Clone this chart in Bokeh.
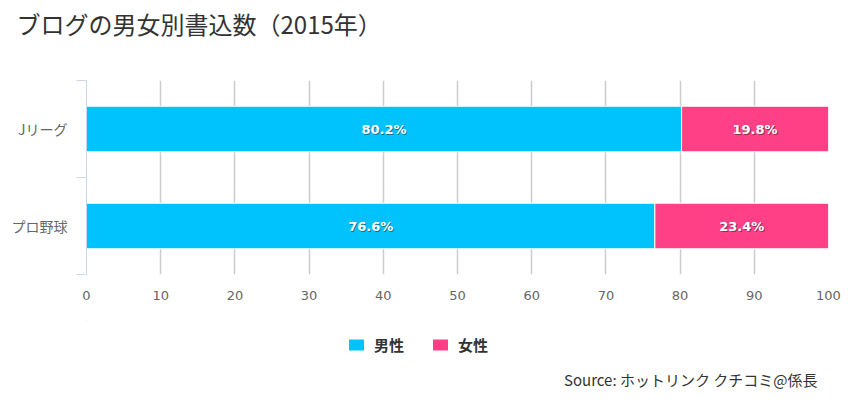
from bokeh.plotting import figure
from bokeh.layouts import column
from bokeh.models import (Range1d, FixedTicker, Legend, LegendItem, Label, Title, ColumnDataSource)
from bokeh.core.properties import value
from bokeh.embed import file_html
from bokeh.resources import INLINE

# ---- data ----
categories = ["Jリーグ", "プロ野球"]
male = [80.2, 76.6]
female = [19.8, 23.4]
series_names = ["男性", "女性"]
x_ticks = [0, 10, 20, 30, 40, 50, 60, 70, 80, 90, 100]
title_text = "ブログの男女別書込数（2015年）"
source_text = "Source: ホットリンク クチコミ@係長"

MALE_COLOR = "#00c3fe"
FEMALE_COLOR = "#ff4087"
JP = "Noto Sans CJK JP"
NUM = "DejaVu Sans"
W = 852

n = len(categories)
ypos = [i + 0.5 for i in range(n)]
src = ColumnDataSource(dict(y=ypos, cat=categories, male=male, female=female))


def blank(height):
    f = figure(width=W, height=height, output_backend="svg", toolbar_location=None,
               x_range=Range1d(0, 1), y_range=Range1d(0, 1),
               x_axis_type=None, y_axis_type=None, min_border=0)
    f.outline_line_color = None
    f.grid.visible = False
    return f


# ---- header with title ----
head = blank(60)
head.title = Title(text=title_text, align="left", offset=-70, standoff=6,
                   text_font=JP, text_font_size="24px", text_font_style="normal",
                   text_color="#333333")

# ---- main chart ----
p = figure(width=W, height=260, output_backend="svg", toolbar_location=None,
           x_range=Range1d(0, 100), y_range=Range1d(n, 0),
           min_border_left=86, min_border_right=W - 828, min_border_top=20, min_border_bottom=46)
p.outline_line_color = None

p.hbar_stack(["male", "female"], y="y", height=0.47, source=src,
             color=[MALE_COLOR, FEMALE_COLOR], line_color="white", line_width=1)

lab = ColumnDataSource(dict(
    x=[m / 2 for m in male] + [m + f / 2 for m, f in zip(male, female)],
    y=ypos + ypos,
    t=[f"{v}%" for v in male] + [f"{v}%" for v in female],
))
p.text(x="x", y="y", text="t", source=lab, text_color="#222222", text_alpha=0.5,
       text_font=value(NUM), text_font_style="bold", text_font_size="13px",
       text_align="center", text_baseline="middle", x_offset=1, y_offset=1)
p.text(x="x", y="y", text="t", source=lab, text_color="white",
       text_font=value(NUM), text_font_style="bold", text_font_size="13px",
       text_align="center", text_baseline="middle")

xa = p.xaxis[0]
xa.ticker = FixedTicker(ticks=x_ticks)
xa.axis_line_color = None
xa.major_tick_line_color = None
xa.minor_tick_line_color = None
xa.major_label_text_color = "#666666"
xa.major_label_text_font = NUM
xa.major_label_text_font_size = "13px"
xa.major_label_standoff = 10

p.xgrid.ticker = FixedTicker(ticks=x_ticks)
p.xgrid.grid_line_color = "#cccccc"
p.xgrid.grid_line_width = 1.5
p.ygrid.grid_line_color = None

ya = p.yaxis[0]
ya.ticker = FixedTicker(ticks=ypos, minor_ticks=list(range(n + 1)))
ya.major_label_overrides = {y: c for y, c in zip(ypos, categories)}
ya.axis_line_color = "#ccd6eb"
ya.major_tick_line_color = None
ya.minor_tick_line_color = "#ccd6eb"
ya.minor_tick_in = 0
ya.minor_tick_out = 10
ya.major_tick_out = 0
ya.major_tick_in = 0
ya.major_label_standoff = 9
ya.major_label_text_color = "#666666"
ya.major_label_text_font = JP
ya.major_label_text_font_size = "14px"

# ---- footer with legend and source (frame aligned with the chart's frame) ----
foot = blank(80)
# legend keys: same series, but the strip's ranges keep their bars out of view
foot.x_range = Range1d(1000, 1001)
foot.y_range = Range1d(-1000, -999)
keys = foot.hbar_stack(["male", "female"], y="y", height=0.47, source=src,
                       color=[MALE_COLOR, FEMALE_COLOR], line_color="white", line_width=1)
legend = Legend(items=[LegendItem(label=nm, renderers=[r]) for nm, r in zip(series_names, keys)],
                orientation="horizontal", location=(260, 45),
                border_line_color=None, background_fill_alpha=0,
                label_text_font=JP, label_text_font_style="bold",
                label_text_font_size="15px", label_text_color="#333333",
                glyph_width=20, glyph_height=15, label_standoff=8,
                spacing=26, margin=0, padding=4)
foot.add_layout(legend, "center")
foot.add_layout(Label(x=731, y=21, x_units="screen", y_units="screen", text=source_text,
                      text_align="right", text_baseline="middle", text_font=JP,
                      text_font_size="15px", text_color="#333333"))

layout = column(head, p, foot, spacing=0)
open("out.html", "w").write(file_html(layout, INLINE))
